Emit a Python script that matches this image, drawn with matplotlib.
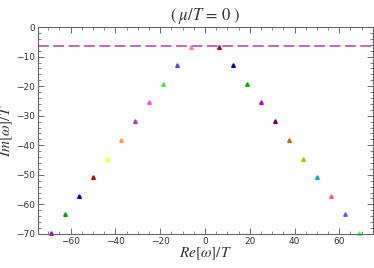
import matplotlib
matplotlib.use("Agg")
import matplotlib.pyplot as plt
from matplotlib.ticker import MultipleLocator

plt.rcParams['mathtext.fontset'] = 'stix'

# left branch (Re < 0), n = 1..11
re_left = [-6.3, -12.5, -18.8, -25.0, -31.3, -37.5, -43.8, -50.0, -56.3, -62.5, -68.8]
im_left = [-6.6, -12.8, -19.3, -25.4, -31.8, -38.2, -44.5, -50.7, -57.1, -63.4, -69.8]
col_left = ['#ff7fa0', '#4848ff', '#50e050', '#ff40ff', '#a040a8', '#ffa050',
            '#ffff40', '#c00000', '#0000b8', '#00a800', '#b000b0']

# right branch (Re > 0)
re_right = [6.4, 12.6, 18.9, 25.1, 31.4, 37.7, 43.9, 50.2, 56.4, 62.7, 68.9]
im_right = [-6.6, -12.8, -19.3, -25.4, -31.8, -38.2, -44.5, -50.7, -57.1, -63.4, -69.8]
col_right = ['#b00010', '#0000a8', '#00b000', '#c000c0', '#600060', '#c06810',
             '#b8b800', '#00b0b0', '#ff6060', '#6060ff', '#60ff60']

matsubara = -6.4

fig = plt.figure(figsize=(3.74, 2.68), dpi=100)
ax = fig.add_axes([0.102, 0.127, 0.895, 0.772])

ax.axhline(matsubara, color='#b060b8', lw=1.3, dashes=(6, 2.5))

for x, y, c in zip(re_left, im_left, col_left):
    ax.plot(x, y, '^', color=c, ms=2.6, mec=c, clip_on=False)
for x, y, c in zip(re_right, im_right, col_right):
    ax.plot(x, y, '^', color=c, ms=2.6, mec=c, clip_on=False)

ax.set_xlim(-74.5, 75)
ax.set_ylim(-70, 0)
ax.xaxis.set_major_locator(MultipleLocator(20))
ax.xaxis.set_minor_locator(MultipleLocator(5))
ax.yaxis.set_major_locator(MultipleLocator(10))
ax.yaxis.set_minor_locator(MultipleLocator(2))
ax.tick_params(which='both', direction='in', top=True, right=True,
               color='#555555', labelsize=6.5, labelcolor='#333333', pad=2)
ax.tick_params(which='major', length=4, width=0.6)
ax.tick_params(which='minor', length=2, width=0.5)
for s in ax.spines.values():
    s.set_color('#666666')
    s.set_linewidth(0.8)

ax.set_xlabel(r'$Re[\omega]/T$', fontsize=11, labelpad=0, color='#333333')
ax.set_ylabel(r'$Im[\omega]/T$', fontsize=11, labelpad=1, color='#333333')
ax.set_title(r'$(\;\mu/T\,=\,0\;)$', fontsize=12, pad=5, color='#333333')

fig.savefig('out.png', dpi=100)
